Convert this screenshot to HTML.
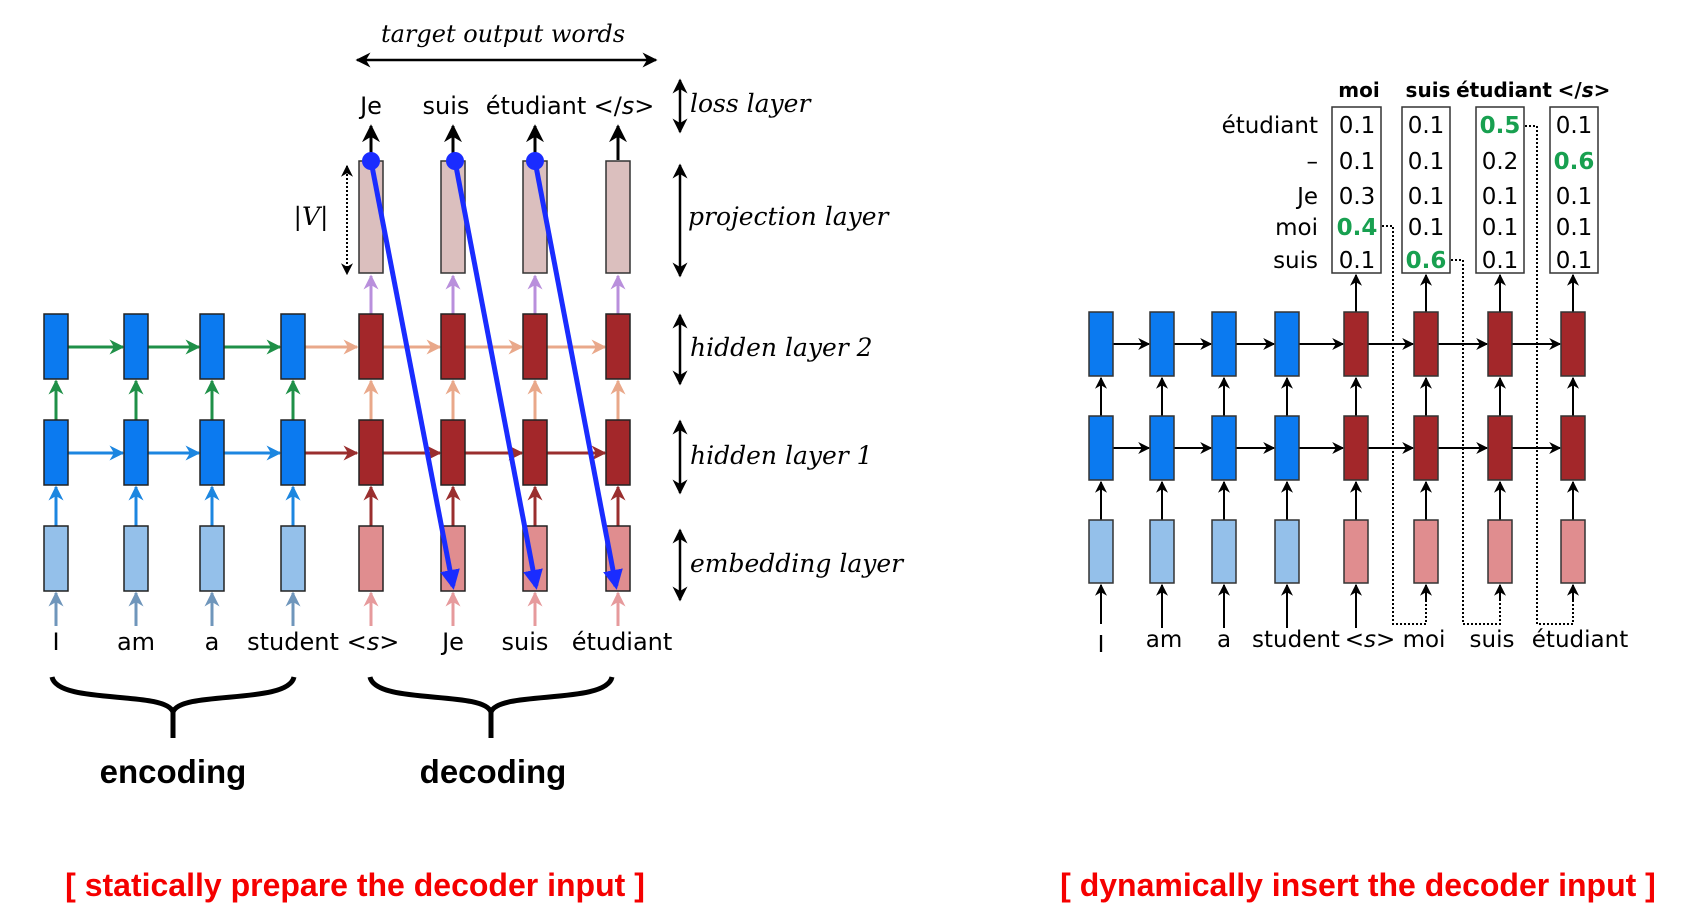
<!DOCTYPE html>
<html><head><meta charset="utf-8"><style>
html,body{margin:0;padding:0;background:#fff;}
svg{display:block;}
text{font-family:"DejaVu Sans","Liberation Sans",sans-serif;}
text.it{font-family:"DejaVu Serif","Liberation Serif",serif;font-style:italic;}
text.lb{font-family:"Liberation Sans",sans-serif;font-weight:bold;}
</style></head><body>
<svg width="1689" height="919" viewBox="0 0 1689 919" xmlns="http://www.w3.org/2000/svg">
<defs>
<marker id="mk" viewBox="0 0 10 10" refX="9" refY="5" markerWidth="5" markerHeight="5" orient="auto-start-reverse"><path d="M0,0 L10,5 L0,10 L3,5 z" fill="context-stroke"/></marker>
<marker id="bk" viewBox="0 0 10 10" refX="9" refY="5" markerWidth="6" markerHeight="6" orient="auto-start-reverse"><path d="M0,0 L10,5 L0,10 L3,5 z" fill="#000"/></marker>
<marker id="bl" viewBox="0 0 10 10" refX="8" refY="5" markerWidth="4" markerHeight="4" orient="auto"><path d="M0,0 L10,5 L0,10 z" fill="#1a2cff"/></marker>
</defs>

<!-- LEFT DIAGRAM -->
<text x="503" y="42" class="it" font-size="24" text-anchor="middle">target output words</text>
<line x1="357" y1="60" x2="656" y2="60" stroke="#000" stroke-width="2.5" marker-start="url(#bk)" marker-end="url(#bk)"/>

<g font-size="24" text-anchor="middle">
<text x="371" y="114">Je</text><text x="446" y="114">suis</text><text x="536" y="114">étudiant</text><text x="624" y="114">&lt;/<tspan font-style="italic">s</tspan>&gt;</text>
</g>
<g stroke="#000" stroke-width="2.5" marker-start="url(#bk)" marker-end="url(#bk)">
<line x1="680" y1="80" x2="680" y2="132"/>
<line x1="680" y1="165" x2="680" y2="276"/>
<line x1="680" y1="315" x2="680" y2="384"/>
<line x1="680" y1="421" x2="680" y2="493"/>
<line x1="680" y1="530" x2="680" y2="600"/>
</g>
<g font-size="25">
<text x="690" y="112" class="it">loss layer</text>
<text x="688" y="225" class="it">projection layer</text>
<text x="690" y="356" class="it">hidden layer 2</text>
<text x="690" y="464" class="it">hidden layer 1</text>
<text x="690" y="572" class="it">embedding layer</text>
</g>
<text x="311" y="225" class="it" font-size="25" text-anchor="middle">|V|</text>
<line x1="347" y1="166" x2="347" y2="274" stroke="#000" stroke-width="2" stroke-dasharray="2,2" marker-start="url(#bk)" marker-end="url(#bk)"/>

<g stroke="#000" stroke-width="3" marker-end="url(#bk)">
<line x1="371" y1="160" x2="371" y2="126"/><line x1="453" y1="160" x2="453" y2="126"/><line x1="535" y1="160" x2="535" y2="126"/><line x1="618" y1="160" x2="618" y2="126"/>
</g>
<g fill="#dbbfbe" stroke="#333" stroke-width="1.5">
<rect x="359" y="161" width="24" height="112"/><rect x="441" y="161" width="24" height="112"/><rect x="523" y="161" width="24" height="112"/><rect x="606" y="161" width="24" height="112"/>
</g>
<g stroke="#b98fdc" stroke-width="3" marker-end="url(#mk)">
<line x1="371" y1="314" x2="371" y2="276"/><line x1="453" y1="314" x2="453" y2="276"/><line x1="535" y1="314" x2="535" y2="276"/><line x1="618" y1="314" x2="618" y2="276"/>
</g>
<g stroke="#1f9048" stroke-width="3" marker-end="url(#mk)">
<line x1="68" y1="347" x2="123" y2="347"/><line x1="148" y1="347" x2="199" y2="347"/><line x1="224" y1="347" x2="280" y2="347"/>
<line x1="56" y1="420" x2="56" y2="381"/><line x1="136" y1="420" x2="136" y2="381"/><line x1="212" y1="420" x2="212" y2="381"/><line x1="293" y1="420" x2="293" y2="381"/>
</g>
<g stroke="#1c86e0" stroke-width="3" marker-end="url(#mk)">
<line x1="68" y1="453" x2="123" y2="453"/><line x1="148" y1="453" x2="199" y2="453"/><line x1="224" y1="453" x2="280" y2="453"/>
<line x1="56" y1="526" x2="56" y2="487"/><line x1="136" y1="526" x2="136" y2="487"/><line x1="212" y1="526" x2="212" y2="487"/><line x1="293" y1="526" x2="293" y2="487"/>
</g>
<g stroke="#6f96bb" stroke-width="3" marker-end="url(#mk)">
<line x1="56" y1="626" x2="56" y2="593"/><line x1="136" y1="626" x2="136" y2="593"/><line x1="212" y1="626" x2="212" y2="593"/><line x1="293" y1="626" x2="293" y2="593"/>
</g>
<g stroke="#e9a88a" stroke-width="3" marker-end="url(#mk)">
<line x1="305" y1="347" x2="357" y2="347"/><line x1="382" y1="347" x2="440" y2="347"/><line x1="465" y1="347" x2="522" y2="347"/><line x1="547" y1="347" x2="605" y2="347"/>
<line x1="371" y1="420" x2="371" y2="381"/><line x1="453" y1="420" x2="453" y2="381"/><line x1="535" y1="420" x2="535" y2="381"/><line x1="618" y1="420" x2="618" y2="381"/>
</g>
<g stroke="#9a2e2e" stroke-width="3" marker-end="url(#mk)">
<line x1="305" y1="453" x2="357" y2="453"/><line x1="382" y1="453" x2="440" y2="453"/><line x1="465" y1="453" x2="522" y2="453"/><line x1="547" y1="453" x2="605" y2="453"/>
<line x1="371" y1="526" x2="371" y2="487"/><line x1="453" y1="526" x2="453" y2="487"/><line x1="535" y1="526" x2="535" y2="487"/><line x1="618" y1="526" x2="618" y2="487"/>
</g>
<g stroke="#e69a9c" stroke-width="3" marker-end="url(#mk)">
<line x1="371" y1="626" x2="371" y2="593"/><line x1="453" y1="626" x2="453" y2="593"/><line x1="535" y1="626" x2="535" y2="593"/><line x1="618" y1="626" x2="618" y2="593"/>
</g>
<g stroke="#222" stroke-width="1.5">
<g fill="#0b7af0">
<rect x="44" y="314" width="24" height="65"/><rect x="124" y="314" width="24" height="65"/><rect x="200" y="314" width="24" height="65"/><rect x="281" y="314" width="24" height="65"/>
<rect x="44" y="420" width="24" height="65"/><rect x="124" y="420" width="24" height="65"/><rect x="200" y="420" width="24" height="65"/><rect x="281" y="420" width="24" height="65"/>
</g>
<g fill="#94c0ea">
<rect x="44" y="526" width="24" height="65"/><rect x="124" y="526" width="24" height="65"/><rect x="200" y="526" width="24" height="65"/><rect x="281" y="526" width="24" height="65"/>
</g>
<g fill="#a3272a">
<rect x="359" y="314" width="24" height="65"/><rect x="441" y="314" width="24" height="65"/><rect x="523" y="314" width="24" height="65"/><rect x="606" y="314" width="24" height="65"/>
<rect x="359" y="420" width="24" height="65"/><rect x="441" y="420" width="24" height="65"/><rect x="523" y="420" width="24" height="65"/><rect x="606" y="420" width="24" height="65"/>
</g>
<g fill="#e08d8f">
<rect x="359" y="526" width="24" height="65"/><rect x="441" y="526" width="24" height="65"/><rect x="523" y="526" width="24" height="65"/><rect x="606" y="526" width="24" height="65"/>
</g>
</g>
<g stroke="#1a2cff" stroke-width="5" marker-end="url(#bl)">
<line x1="371" y1="161" x2="453" y2="586"/><line x1="455" y1="161" x2="536" y2="586"/><line x1="535" y1="161" x2="616" y2="586"/>
</g>
<g fill="#1a2cff"><circle cx="371" cy="161" r="9"/><circle cx="455" cy="161" r="9"/><circle cx="535" cy="161" r="9"/></g>

<g font-size="24" text-anchor="middle">
<text x="56" y="650">I</text><text x="136" y="650">am</text><text x="212" y="650">a</text><text x="293" y="650">student</text>
<text x="373" y="650">&lt;<tspan font-style="italic">s</tspan>&gt;</text><text x="453" y="650">Je</text><text x="525" y="650">suis</text><text x="622" y="650">étudiant</text>
</g>
<g fill="none" stroke="#000" stroke-width="5">
<path d="M52,677 C58,705 165,690 173,712 L173,738 M173,712 C181,690 288,705 294,677"/>
<path d="M370,677 C376,705 483,690 491,712 L491,738 M491,712 C499,690 606,705 612,677"/>
</g>
<g font-size="33" text-anchor="middle">
<text class="lb" x="173" y="783">encoding</text><text class="lb" x="493" y="783">decoding</text>
</g>
<text class="lb" x="355" y="896" font-size="32" fill="#f50000" text-anchor="middle">[ statically prepare the decoder input ]</text>
<text class="lb" x="1358" y="896" font-size="32" fill="#f50000" text-anchor="middle">[ dynamically insert the decoder input ]</text>

<!-- RIGHT DIAGRAM -->
<g font-size="20" font-weight="bold" text-anchor="middle">
<text x="1359" y="97">moi</text><text x="1428" y="97">suis</text><text x="1504" y="97">étudiant</text><text x="1584" y="97">&lt;/<tspan font-style="italic">s</tspan>&gt;</text>
</g>
<g font-size="23" text-anchor="end">
<text x="1318" y="133">étudiant</text><text x="1318" y="169">–</text><text x="1318" y="204">Je</text><text x="1318" y="235">moi</text><text x="1318" y="268">suis</text>
</g>
<g fill="none" stroke="#333" stroke-width="1.5">
<rect x="1332" y="107" width="49" height="166"/><rect x="1402" y="107" width="48" height="166"/><rect x="1476" y="107" width="48" height="166"/><rect x="1550" y="107" width="48" height="166"/>
</g>
<g font-size="23" text-anchor="middle">
<text x="1357" y="133">0.1</text><text x="1357" y="169">0.1</text><text x="1357" y="204">0.3</text><text x="1357" y="235" font-weight="bold" fill="#18a050">0.4</text><text x="1357" y="268">0.1</text>
<text x="1426" y="133">0.1</text><text x="1426" y="169">0.1</text><text x="1426" y="204">0.1</text><text x="1426" y="235">0.1</text><text x="1426" y="268" font-weight="bold" fill="#18a050">0.6</text>
<text x="1500" y="133" font-weight="bold" fill="#18a050">0.5</text><text x="1500" y="169">0.2</text><text x="1500" y="204">0.1</text><text x="1500" y="235">0.1</text><text x="1500" y="268">0.1</text>
<text x="1574" y="133">0.1</text><text x="1574" y="169" font-weight="bold" fill="#18a050">0.6</text><text x="1574" y="204">0.1</text><text x="1574" y="235">0.1</text><text x="1574" y="268">0.1</text>
</g>
<g fill="none" stroke="#000" stroke-width="2" stroke-dasharray="2,2">
<path d="M1382,226 H1393 V624 H1426 V592"/>
<path d="M1451,260 H1463 V624 H1500 V592"/>
<path d="M1525,126 H1537 V624 H1573 V592"/>
</g>
<g stroke="#000" stroke-width="2" marker-end="url(#bk)">
<line x1="1101" y1="624" x2="1101" y2="585"/><line x1="1162" y1="628" x2="1162" y2="585"/><line x1="1224" y1="628" x2="1224" y2="585"/><line x1="1287" y1="628" x2="1287" y2="585"/><line x1="1356" y1="628" x2="1356" y2="585"/>
<line x1="1426" y1="600" x2="1426" y2="585"/><line x1="1500" y1="600" x2="1500" y2="585"/><line x1="1573" y1="600" x2="1573" y2="585"/>
<line x1="1101" y1="520" x2="1101" y2="482"/><line x1="1162" y1="520" x2="1162" y2="482"/><line x1="1224" y1="520" x2="1224" y2="482"/><line x1="1287" y1="520" x2="1287" y2="482"/><line x1="1356" y1="520" x2="1356" y2="482"/><line x1="1426" y1="520" x2="1426" y2="482"/><line x1="1500" y1="520" x2="1500" y2="482"/><line x1="1573" y1="520" x2="1573" y2="482"/>
<line x1="1101" y1="416" x2="1101" y2="378"/><line x1="1162" y1="416" x2="1162" y2="378"/><line x1="1224" y1="416" x2="1224" y2="378"/><line x1="1287" y1="416" x2="1287" y2="378"/><line x1="1356" y1="416" x2="1356" y2="378"/><line x1="1426" y1="416" x2="1426" y2="378"/><line x1="1500" y1="416" x2="1500" y2="378"/><line x1="1573" y1="416" x2="1573" y2="378"/>
<line x1="1356" y1="312" x2="1356" y2="275"/><line x1="1426" y1="312" x2="1426" y2="275"/><line x1="1500" y1="312" x2="1500" y2="275"/><line x1="1573" y1="312" x2="1573" y2="275"/>
<line x1="1113" y1="344" x2="1149" y2="344"/><line x1="1174" y1="344" x2="1211" y2="344"/><line x1="1236" y1="344" x2="1274" y2="344"/><line x1="1299" y1="344" x2="1343" y2="344"/><line x1="1368" y1="344" x2="1413" y2="344"/><line x1="1438" y1="344" x2="1487" y2="344"/><line x1="1512" y1="344" x2="1560" y2="344"/>
<line x1="1113" y1="448" x2="1149" y2="448"/><line x1="1174" y1="448" x2="1211" y2="448"/><line x1="1236" y1="448" x2="1274" y2="448"/><line x1="1299" y1="448" x2="1343" y2="448"/><line x1="1368" y1="448" x2="1413" y2="448"/><line x1="1438" y1="448" x2="1487" y2="448"/><line x1="1512" y1="448" x2="1560" y2="448"/>
</g>
<g stroke="#333" stroke-width="1.5">
<g fill="#0b7af0">
<rect x="1089" y="312" width="24" height="64"/><rect x="1150" y="312" width="24" height="64"/><rect x="1212" y="312" width="24" height="64"/><rect x="1275" y="312" width="24" height="64"/>
<rect x="1089" y="416" width="24" height="64"/><rect x="1150" y="416" width="24" height="64"/><rect x="1212" y="416" width="24" height="64"/><rect x="1275" y="416" width="24" height="64"/>
</g>
<g fill="#94c0ea">
<rect x="1089" y="520" width="24" height="63"/><rect x="1150" y="520" width="24" height="63"/><rect x="1212" y="520" width="24" height="63"/><rect x="1275" y="520" width="24" height="63"/>
</g>
<g fill="#a3272a">
<rect x="1344" y="312" width="24" height="64"/><rect x="1414" y="312" width="24" height="64"/><rect x="1488" y="312" width="24" height="64"/><rect x="1561" y="312" width="24" height="64"/>
<rect x="1344" y="416" width="24" height="64"/><rect x="1414" y="416" width="24" height="64"/><rect x="1488" y="416" width="24" height="64"/><rect x="1561" y="416" width="24" height="64"/>
</g>
<g fill="#e08d8f">
<rect x="1344" y="520" width="24" height="63"/><rect x="1414" y="520" width="24" height="63"/><rect x="1488" y="520" width="24" height="63"/><rect x="1561" y="520" width="24" height="63"/>
</g>
</g>
<g font-size="23" text-anchor="middle">
<text x="1101" y="652">I</text><text x="1164" y="647">am</text><text x="1224" y="647">a</text><text x="1296" y="647">student</text>
<text x="1370" y="647">&lt;<tspan font-style="italic">s</tspan>&gt;</text><text x="1424" y="647">moi</text><text x="1492" y="647">suis</text><text x="1580" y="647">étudiant</text>
</g>
</svg>
</body></html>
